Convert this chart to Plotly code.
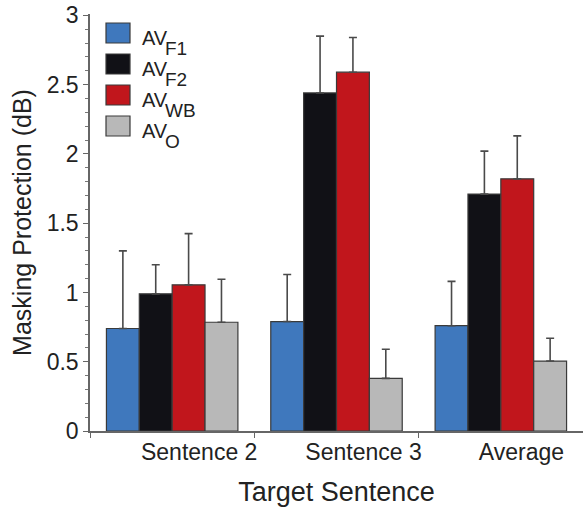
import plotly.graph_objects as go

categories = ["Sentence 2", "Sentence 3", "Average"]
tick_labels = ["Sentence 2", "Sentence 3", "Average&nbsp;&nbsp;"]
series_base = "AV"
series_subs = ["F1", "F2", "WB", "O"]
colors = ["#3f78bd", "#111116", "#c1161c", "#b8b8b8"]

av_f1 = [0.74, 0.79, 0.76]
av_f2 = [0.99, 2.44, 1.71]
av_wb = [1.055, 2.59, 1.82]
av_o = [0.785, 0.38, 0.505]

err_f1 = [0.56, 0.34, 0.32]
err_f2 = [0.21, 0.41, 0.31]
err_wb = [0.37, 0.25, 0.31]
err_o = [0.31, 0.21, 0.165]

values = [av_f1, av_f2, av_wb, av_o]
errors = [err_f1, err_f2, err_wb, err_o]

W, H = 583, 508
ML, MR, MT, MB = 90, 0, 14, 77
FONT = "Arial, Liberation Sans, Helvetica, sans-serif"
TXT = "#222222"

fig = go.Figure()
for sub, vals, errs, col in zip(series_subs, values, errors, colors):
    fig.add_trace(go.Bar(
        x=categories, y=vals, name=f"{series_base}<sub>{sub}</sub>",
        marker=dict(color=col, line=dict(color="#3a3a3a", width=1.2)),
        error_y=dict(type="data", symmetric=False, array=errs,
                     arrayminus=[0] * len(errs), color="#4a4a4a",
                     thickness=1.6, width=4),
        showlegend=False,
    ))

# custom legend (large swatches like the original)
pw = W - ML - MR
ph = H - MT - MB


def px_x(x):
    return (x - ML) / pw


def px_y(y):
    return 1 - (y - MT) / ph


leg_top = 23
leg_step = 31
for i, (sub, col) in enumerate(zip(series_subs, colors)):
    y0 = leg_top + i * leg_step
    fig.add_shape(type="rect", xref="paper", yref="paper",
                  x0=px_x(106), x1=px_x(130), y0=px_y(y0 + 20), y1=px_y(y0),
                  fillcolor=col, line=dict(color="#3a3a3a", width=1.2))
    fig.add_annotation(xref="paper", yref="paper", x=px_x(141), y=px_y(y0 + 15),
                       xanchor="left", yanchor="middle", showarrow=False,
                       borderpad=0, text=series_base,
                       font=dict(family=FONT, size=20, color=TXT))
    fig.add_annotation(xref="paper", yref="paper", x=px_x(164), y=px_y(y0 + 25),
                       xanchor="left", yanchor="middle", showarrow=False,
                       borderpad=0, text=sub,
                       font=dict(family=FONT, size=19, color=TXT))

fig.update_layout(
    width=W, height=H,
    margin=dict(l=ML, r=MR, t=MT, b=MB),
    paper_bgcolor="white", plot_bgcolor="white",
    barmode="group", bargap=0.2, bargroupgap=0,
    font=dict(family=FONT, color=TXT),
    xaxis=dict(
        title=dict(text="Target Sentence", font=dict(size=27, color=TXT), standoff=18),
        tickson="boundaries", ticks="outside", ticklen=5, tickcolor="#666",
        tickmode="array", tickvals=categories, ticktext=tick_labels,
        showline=True, linecolor="#666", linewidth=1.5,
        tickfont=dict(size=23, color=TXT), ticklabelshift=27,
        range=[-0.5, 2.5], showgrid=False, zeroline=False,
    ),
    yaxis=dict(
        title=dict(text="Masking Protection (dB)", font=dict(size=25, color=TXT), standoff=8),
        range=[0, 3.01], tickvals=[0, 0.5, 1, 1.5, 2, 2.5, 3],
        ticktext=["0", "0.5", "1", "1.5", "2", "2.5", "3"],
        ticks="outside", ticklen=5, tickcolor="#666",
        minor=dict(dtick=0.1, ticks="outside", ticklen=3, tickcolor="#777"),
        showline=True, linecolor="#666", linewidth=1.5,
        tickfont=dict(size=23, color=TXT),
        showgrid=False, zeroline=False,
    ),
)

fig.write_html("out.html")
